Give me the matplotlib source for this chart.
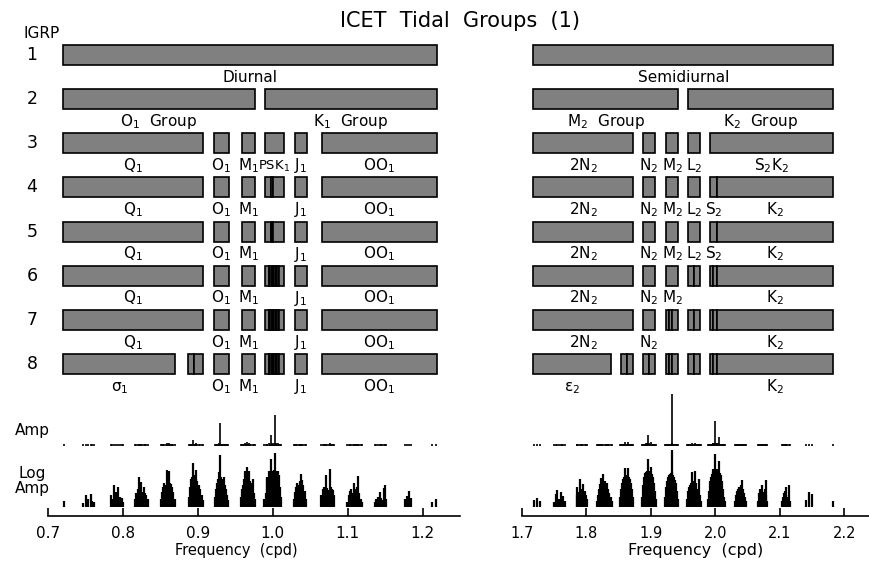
import numpy as np
import matplotlib
matplotlib.use('Agg')
import matplotlib.pyplot as plt

plt.rcParams['font.family'] = ['DejaVu Sans']
plt.rcParams['mathtext.fontset'] = 'dejavusans'
plt.rcParams['mathtext.default'] = 'regular'

#%% datos: grupos de frecuencias (cpd) por fila IGRP -> (inicio, fin, etiqueta)
igrp = [1, 2, 3, 4, 5, 6, 7, 8]

Q1 = (0.7204, 0.9067, r'Q$_1$')
O1 = (0.9213, 0.9413, r'O$_1$')
M1 = (0.9587, 0.9760, r'M$_1$')
J1 = (1.0293, 1.0458, r'J$_1$')
OO1 = (1.0653, 1.2191, r'OO$_1$')
psk_split = [(0.9893, 0.9950, ''), (0.9950, 0.9968, ''), (0.9968, 0.9986, ''),
             (0.9986, 1.0004, ''), (1.0004, 1.0022, ''), (1.0022, 1.0040, ''),
             (1.0040, 1.0062, ''), (1.0062, 1.0090, ''), (1.0090, 1.0147, '')]

diurnal_rows = [
    [(0.7204, 1.2191, 'Diurnal')],
    [(0.7204, 0.9760, r'O$_1$  Group'), (0.9893, 1.2191, r'K$_1$  Group')],
    [Q1, O1, M1, (0.9893, 1.0147, r'PSK$_1$'), J1, OO1],
    [Q1, O1, M1, (0.9893, 0.9983, ''), (0.9983, 1.0001, ''), (1.0001, 1.0147, ''), J1, OO1],
    [Q1, O1, M1, (0.9893, 0.9980, ''), (0.9980, 0.9993, ''), (0.9993, 1.0006, ''),
     (1.0006, 1.0147, ''), J1, OO1],
    [Q1, O1, M1] + psk_split + [J1, OO1],
    [Q1, O1, M1] + psk_split + [J1, OO1],
    [(0.7204, 0.8702, 'σ$_1$'), (0.8871, 0.8947, ''), (0.8947, 0.9067, ''), O1, M1]
    + psk_split + [J1, OO1],
]

N2N2 = (1.7180, 1.8721, r'2N$_2$')
N2 = (1.8876, 1.9067, r'N$_2$')
M2 = (1.9237, 1.9428, r'M$_2$')
L2 = (1.9583, 1.9769, r'L$_2$')
S2 = (1.9919, 2.0030, r'S$_2$')
K2 = (2.0030, 2.1831, r'K$_2$')
n2_split = [(1.8876, 1.8974, ''), (1.8974, 1.9067, '')]
m2_split = [(1.9237, 1.9289, ''), (1.9289, 1.9330, ''), (1.9330, 1.9428, '')]
l2_split = [(1.9583, 1.9676, ''), (1.9676, 1.9769, '')]
s2_split = [(1.9919, 1.9962, ''), (1.9962, 2.0030, '')]

semidiurnal_rows = [
    [(1.7180, 2.1831, 'Semidiurnal')],
    [(1.7180, 1.9428, r'M$_2$  Group'), (1.9583, 2.1831, r'K$_2$  Group')],
    [N2N2, N2, M2, L2, (1.9919, 2.1831, r'S$_2$K$_2$')],
    [N2N2, N2, M2, L2, S2, K2],
    [N2N2, N2, M2, L2, S2, K2],
    [N2N2, N2, M2] + l2_split + s2_split + [K2],
    [N2N2, N2] + m2_split + l2_split + s2_split + [K2],
    [(1.7180, 1.8385, 'ε$_2$'), (1.8535, 1.8628, ''), (1.8628, 1.8721, '')]
    + n2_split + m2_split + l2_split + s2_split + [K2],
]

#%% espectro de marea (frecuencia cpd, amplitud)
diurnal_freq = [
    0.7210,
    0.7471, 0.7507, 0.7538, 0.7569, 0.7591, 0.7618,
    0.7836, 0.7858, 0.7884, 0.7907, 0.7929, 0.7960, 0.7982, 0.8000,
    0.8160, 0.8180, 0.8200, 0.8215, 0.8230, 0.8245, 0.8260, 0.8275, 0.8290, 0.8310, 0.8330,
    0.8510, 0.8525, 0.8540, 0.8555, 0.8570, 0.8585, 0.8600, 0.8615, 0.8630, 0.8645, 0.8660,
    0.8675, 0.8690,
    0.8885, 0.8900, 0.8915, 0.8925, 0.8932, 0.8945, 0.8960, 0.8970, 0.8981, 0.8995, 0.9010,
    0.9030, 0.9050, 0.9065,
    0.9225, 0.9240, 0.9255, 0.9270, 0.9282, 0.9295, 0.9310, 0.9325, 0.9340, 0.9350, 0.9365,
    0.9380, 0.9395, 0.9405,
    0.9575, 0.9590, 0.9605, 0.9620, 0.9630, 0.9645, 0.9658, 0.9670, 0.9685, 0.9700, 0.9715,
    0.9730, 0.9745, 0.9758,
    0.9890, 0.9905, 0.9918, 0.9930, 0.9945, 0.9958, 0.9973, 0.9986, 1.0000, 1.0014, 1.0027,
    1.0040, 1.0055, 1.0068, 1.0082, 1.0095, 1.0108,
    1.0285, 1.0300, 1.0315, 1.0330, 1.0345, 1.0358, 1.0370, 1.0382, 1.0395, 1.0410, 1.0425,
    1.0440,
    1.0650, 1.0665, 1.0680, 1.0695, 1.0716, 1.0730, 1.0745, 1.0759, 1.0773, 1.0790, 1.0805,
    1.0820,
    1.0996, 1.1015, 1.1035, 1.1050, 1.1065, 1.1084, 1.1100, 1.1115, 1.1125, 1.1138, 1.1155,
    1.1175, 1.1195,
    1.1360, 1.1380, 1.1400, 1.1427, 1.1445, 1.1465, 1.1480, 1.1493, 1.1510,
    1.1764, 1.1790, 1.1818, 1.1850,
    1.2124, 1.2182,
]
diurnal_amp = [
    6.6e-5,
    4.6e-5, 2.0e-4, 9.4e-5, 2.3e-4, 6.6e-5, 5.5e-5,
    2.0e-4, 9.4e-5, 1.2e-3, 3.3e-4, 8.1e-4, 1.35e-4, 1.1e-4, 5.5e-5,
    9.4e-5, 2.8e-4, 5.7e-4, 4.9e-3, 4.0e-4, 2.0e-3, 3.3e-4, 8.1e-4, 2.8e-4, 2.0e-4, 9.4e-5,
    9.4e-5, 3.3e-4, 8.1e-4, 1.7e-3, 1.2e-3, 0.017, 2.4e-3, 0.0146, 1.7e-3, 1.4e-3, 8.1e-4,
    3.3e-4, 9.4e-5,
    1.35e-4, 8.1e-4, 3.4e-3, 4.9e-3, 0.060, 7.0e-3, 4.9e-3, 3.4e-3, 0.017, 2.4e-3, 1.2e-3,
    5.7e-4, 2.0e-4, 7.8e-5,
    1.35e-4, 5.7e-4, 1.7e-3, 3.4e-3, 0.012, 0.262, 4.9e-3, 3.4e-3, 2.4e-3, 4.9e-3, 1.2e-3,
    5.7e-4, 2.0e-4, 7.8e-5,
    1.35e-4, 5.7e-4, 1.2e-3, 3.4e-3, 0.0146, 2.0e-3, 0.030, 3.4e-3, 0.0146, 2.4e-3, 1.7e-3,
    3.4e-3, 2.8e-4, 9.4e-5,
    9.4e-5, 2.8e-4, 3.4e-3, 4.9e-3, 0.0146, 0.010, 0.122, 0.0146, 8.5e-3, 0.017, 0.369,
    0.0146, 0.010, 0.0146, 7.0e-3, 8.1e-4, 1.35e-4,
    9.4e-5, 3.3e-4, 8.1e-4, 1.7e-3, 1.2e-3, 2.4e-3, 1.7e-3, 8.5e-3, 2.9e-3, 1.2e-3, 4.0e-4,
    9.4e-5,
    2.0e-4, 5.7e-4, 8.1e-4, 5.7e-4, 7.0e-3, 6.8e-4, 4.7e-4, 0.021, 8.1e-4, 5.7e-4, 4.7e-4,
    2.0e-4,
    5.5e-5, 2.0e-4, 4.0e-4, 5.7e-4, 2.8e-4, 1.7e-3, 5.7e-4, 3.3e-4, 8.1e-4, 5.9e-3, 2.8e-4,
    9.4e-5, 5.5e-5,
    5.5e-5, 9.4e-5, 1.35e-4, 3.3e-4, 1.1e-4, 7.8e-5, 6.8e-4, 1.2e-3, 9.4e-5,
    9.4e-5, 1.6e-4, 4.0e-4, 1.1e-4,
    5.5e-5, 9.4e-5,
]

semi_freq = [
    1.7191, 1.7242, 1.7284,
    1.7501, 1.7530, 1.7552, 1.7580, 1.7610, 1.7630, 1.7646, 1.7665,
    1.7850, 1.7862, 1.7880, 1.7904, 1.7920, 1.7940, 1.7955, 1.7975, 1.7995, 1.8020,
    1.8160, 1.8180, 1.8200, 1.8220, 1.8235, 1.8250, 1.8265, 1.8284, 1.8300, 1.8320, 1.8340,
    1.8360, 1.8380, 1.8395,
    1.8520, 1.8535, 1.8550, 1.8565, 1.8580, 1.8597, 1.8610, 1.8625, 1.8645, 1.8660, 1.8675,
    1.8690, 1.8705, 1.8720,
    1.8860, 1.8875, 1.8890, 1.8905, 1.8920, 1.8935, 1.8950, 1.8960, 1.8975, 1.8990, 1.9008,
    1.9020, 1.9035, 1.9050, 1.9065, 1.9080,
    1.9220, 1.9235, 1.9250, 1.9265, 1.9280, 1.9295, 1.9310, 1.9323, 1.9335, 1.9350, 1.9365,
    1.9380, 1.9395, 1.9410, 1.9420,
    1.9560, 1.9575, 1.9590, 1.9605, 1.9620, 1.9637, 1.9650, 1.9665, 1.9686, 1.9700, 1.9715,
    1.9730, 1.9745, 1.9760, 1.9775,
    1.9890, 1.9905, 1.9920, 1.9935, 1.9950, 1.9960, 1.9973, 1.9987, 2.0000, 2.0014, 2.0027,
    2.0041, 2.0055, 2.0070, 2.0085, 2.0100, 2.0115, 2.0130, 2.0145,
    2.0310, 2.0325, 2.0340, 2.0355, 2.0370, 2.0385, 2.0400, 2.0416, 2.0430, 2.0445, 2.0460,
    2.0480,
    2.0660, 2.0675, 2.0690, 2.0705, 2.0721, 2.0735, 2.0750, 2.0765, 2.0780, 2.0795, 2.0810,
    2.1030, 2.1045, 2.1060, 2.1075, 2.1090, 2.1105, 2.1120, 2.1140, 2.1155,
    2.1403, 2.1459, 2.1506,
    2.1822,
]
semi_amp = [
    7.8e-5, 1.1e-4, 6.6e-5,
    5.5e-5, 2.3e-4, 4.7e-4, 9.4e-5, 3.3e-4, 1.35e-4, 1.6e-4, 6.6e-5,
    2.0e-4, 8.1e-4, 3.3e-4, 3.4e-3, 4.0e-4, 5.7e-4, 1.4e-3, 4.0e-4, 2.0e-4, 9.4e-5,
    6.6e-5, 2.0e-4, 5.7e-4, 1.4e-3, 4.1e-3, 1.7e-3, 8.5e-3, 2.4e-3, 1.2e-3, 1.7e-3, 5.7e-4,
    2.8e-4, 1.35e-4, 6.6e-5,
    1.35e-4, 5.7e-4, 1.7e-3, 3.4e-3, 4.9e-3, 0.025, 7.0e-3, 4.9e-3, 0.025, 4.9e-3, 3.4e-3,
    1.7e-3, 5.7e-4, 1.35e-4,
    1.35e-4, 1.2e-3, 4.9e-3, 0.010, 0.012, 0.0146, 8.5e-3, 0.121, 0.0146, 0.010, 0.030,
    8.5e-3, 4.9e-3, 1.7e-3, 4.0e-4, 9.4e-5,
    1.35e-4, 8.1e-4, 2.4e-3, 4.9e-3, 7.0e-3, 8.5e-3, 0.010, 0.632, 0.012, 7.0e-3, 4.9e-3,
    2.9e-3, 1.7e-3, 4.0e-4, 9.4e-5,
    9.4e-5, 4.0e-4, 8.1e-4, 1.2e-3, 1.7e-3, 0.012, 2.4e-3, 1.2e-3, 0.0146, 1.7e-3, 5.7e-4,
    4.0e-4, 3.4e-3, 2.0e-4, 6.6e-5,
    9.4e-5, 4.0e-4, 2.4e-3, 4.9e-3, 8.5e-3, 0.012, 0.021, 0.0146, 0.294, 0.017, 0.021,
    0.0146, 0.090, 0.010, 7.0e-3, 2.4e-3, 5.7e-4, 1.35e-4, 6.6e-5,
    6.6e-5, 2.0e-4, 4.0e-4, 5.7e-4, 8.1e-4, 5.7e-4, 1.2e-3, 2.9e-3, 5.7e-4, 2.8e-4, 1.35e-4,
    6.6e-5,
    6.6e-5, 2.8e-4, 5.7e-4, 4.0e-4, 1.2e-3, 3.3e-4, 2.8e-4, 5.7e-4, 2.9e-3, 2.0e-4, 6.6e-5,
    6.6e-5, 1.35e-4, 2.8e-4, 4.0e-4, 8.1e-4, 2.0e-4, 1.35e-4, 1.2e-3, 6.6e-5,
    7.8e-5, 3.3e-4, 2.3e-4,
    6.6e-5,
]

#%% figura
W, H = 870, 563
fig = plt.figure(figsize=(W / 100, H / 100), dpi=100)

amp_floor = 10 ** -4.65
amp_base = -0.02   # grosor de la linea base del espectro lineal


def ax_px(x0, x1, y_top, y_bot):
    # rectangulo en pixeles (origen arriba a la izquierda) -> fraccion de figura
    return [x0 / W, (H - y_bot) / H, (x1 - x0) / W, (y_bot - y_top) / H]


def dibujar(x0, x1, xlim, rows, freq, amp, xticks, tick_fs, xlabel_fs, xlabel_x):
    ax_bar = fig.add_axes(ax_px(x0, x1, 33, 386.1))
    ax_amp = fig.add_axes(ax_px(x0, x1, 390, 446))
    ax_log = fig.add_axes(ax_px(x0, x1, 440, 516))
    for ax in (ax_bar, ax_amp, ax_log):
        ax.set_xlim(xlim)
        ax.patch.set_visible(False)
        for s in ax.spines.values():
            s.set_visible(False)
        ax.set_yticks([])
    ax_bar.set_xticks([])
    ax_amp.set_xticks([])

    # barras de grupos
    for r, groups in zip(igrp, rows):
        for lo, hi, lab in groups:
            ax_bar.barh(r, hi - lo, left=lo, height=0.453, color='#808080',
                        edgecolor='black', linewidth=1.2)
            if lab:
                fs = 9.5 if lab.startswith('PSK') else 11
                ax_bar.text((lo + hi) / 2, r + 0.61, lab, ha='center', va='baseline',
                            fontsize=fs)
    ax_bar.set_ylim(8.5, 0.5)

    # espectro lineal
    ax_amp.vlines(freq, amp_base, amp, color='black', linewidth=1.2)
    ax_amp.set_ylim(amp_base, 55 / 79 + amp_base)

    # espectro log
    ax_log.set_yscale('log')
    ax_log.vlines(freq, amp_floor, amp, color='black', linewidth=1.6)
    ax_log.set_ylim(10 ** -5.353, 10 ** 0.584)
    ax_log.yaxis.set_visible(False)
    ax_log.spines['bottom'].set_visible(True)
    ax_log.spines['bottom'].set_linewidth(1.2)
    ax_log.set_xticks(xticks)
    ax_log.set_xticklabels(['%.1f' % t for t in xticks])
    ax_log.tick_params(axis='x', direction='in', length=5.5, width=1.2,
                       labelsize=tick_fs, pad=7)
    ax_log.set_xlabel('Frequency  (cpd)', fontsize=xlabel_fs)
    ax_log.xaxis.set_label_coords(xlabel_x, -0.46)
    ax_log.xaxis.label.set_va('center')
    return ax_bar


ax_d = dibujar(48, 460, (0.7, 1.25), diurnal_rows, diurnal_freq, diurnal_amp,
               [0.7, 0.8, 0.9, 1.0, 1.1, 1.2], 11, 10.5, 0.456)
ax_s = dibujar(521.7, 870, (1.7, 2.24), semidiurnal_rows, semi_freq, semi_amp,
               [1.7, 1.8, 1.9, 2.0, 2.1, 2.2], 10.5, 11.5, 0.5)

# textos de la izquierda
for r in igrp:
    ax_d.text(-16 / 412, r, str(r), transform=ax_d.get_yaxis_transform(),
              ha='center', va='center', fontsize=12.5)
fig.text(42 / W, 1 - 34 / H, 'IGRP', ha='center', va='center', fontsize=11)
fig.text(32 / W, 1 - 431 / H, 'Amp', ha='center', va='center', fontsize=11)
fig.text(32 / W, 1 - 481 / H, 'Log\nAmp', ha='center', va='center', fontsize=11,
         linespacing=1.0)
fig.text(460 / W, 1 - 21 / H, 'ICET  Tidal  Groups  (1)', ha='center', va='center',
         fontsize=15)

fig.savefig('out.png', dpi=100)
